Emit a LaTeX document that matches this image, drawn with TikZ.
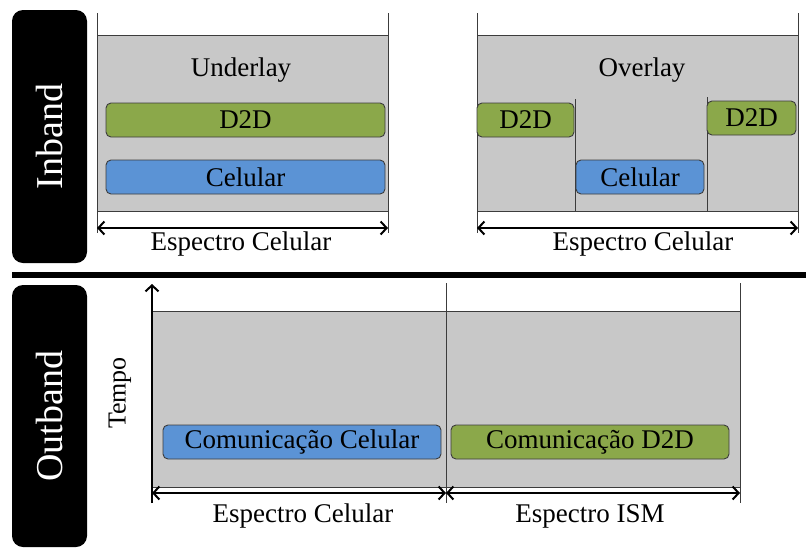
\documentclass[tikz,border=0pt]{standalone}
\usepackage{fontspec}
\setmainfont{Liberation Serif}
\usetikzlibrary{arrows.meta}
\definecolor{panelgray}{HTML}{C8C8C8}
\definecolor{barGreen}{HTML}{8BA84A}
\definecolor{barBlue}{HTML}{5B93D5}
\definecolor{edge}{HTML}{3C3C3C}
\tikzset{
  txt/.style={font=\fontsize{27}{30}\selectfont, inner sep=0pt},
  bandtag/.style={fill=black, rounded corners=11pt, minimum width=75pt, inner sep=0pt,
    text=white, font=\fontsize{38}{40}\selectfont},
  panel/.style={fill=panelgray, draw=edge, line width=0.8pt, inner sep=0pt},
  bar/.style={draw=edge, line width=0.9pt, rounded corners=5pt, minimum height=34pt,
    inner sep=0pt, font=\fontsize{27}{30}\selectfont},
  greenbar/.style={bar, fill=barGreen},
  bluebar/.style={bar, fill=barBlue},
  guide/.style={draw=edge, line width=0.8pt},
  span/.style={line width=2pt, {Straight Barb[length=6pt,width=13pt]}-{Straight Barb[length=6pt,width=13pt]}},
}
\begin{document}
\begin{tikzpicture}[x=1pt,y=-1pt]
\useasboundingbox (0,0) rectangle (806,547);

% ---------- Inband ----------
\node[bandtag, minimum height=253pt] (inband) at (49.5,136.5) {\rotatebox{90}{Inband}};

% Underlay panel
\node[panel, minimum width=291pt, minimum height=176pt] (under) at (242.5,123) {};
\coordinate (uLt) at (97,13);  \coordinate (uLb) at (97,233);
\coordinate (uRt) at (388,13); \coordinate (uRb) at (388,233);
\draw[guide] (uLt) -- (uLb);
\draw[guide] (uRt) -- (uRb);
\node[txt] (underlbl) at (241,70) {Underlay};
\node[greenbar, minimum width=279pt] (ud2d) at (245.5,120) {D2D};
\node[bluebar, minimum width=279pt] (ucel) at (245.5,177) {Celular};
\coordinate (uA) at (97,228); \coordinate (uB) at (388,228);
\draw[span] (uA) -- (uB);
\node[txt] (uspec) at (241,244) {Espectro Celular};

% Overlay panel
\node[panel, minimum width=321pt, minimum height=176pt] (over) at (637.5,123) {};
\coordinate (oLt) at (477,13);  \coordinate (oLb) at (477,233);
\coordinate (oRt) at (798,13); \coordinate (oRb) at (798,233);
\draw[guide] (oLt) -- (oLb);
\draw[guide] (oRt) -- (oRb);
\coordinate (od1t) at (575,99); \coordinate (od1b) at (575,211);
\coordinate (od2t) at (707,97); \coordinate (od2b) at (707,211);
\draw[guide] (od1t) -- (od1b);
\draw[guide] (od2t) -- (od2b);
\node[txt] (overlbl) at (642,70) {Overlay};
\node[greenbar, minimum width=97pt] (od2da) at (525.5,120) {D2D};
\node[bluebar, minimum width=128pt] (ocel) at (640,177) {Celular};
\node[greenbar, minimum width=89pt] (od2db) at (751.5,118) {D2D};
\coordinate (oA) at (477,228); \coordinate (oB) at (798,228);
\draw[span] (oA) -- (oB);
\node[txt] (ospec) at (643,244) {Espectro Celular};

% ---------- separator ----------
\coordinate (sepL) at (12,275); \coordinate (sepR) at (806,275);
\draw[line width=6pt] (sepL) -- (sepR);

% ---------- Outband ----------
\node[bandtag, minimum height=262pt] (outband) at (49.5,416) {\rotatebox{90}{Outband}};

\node[panel, minimum width=588pt, minimum height=176pt] (outp) at (446,399) {};
\coordinate (tB) at (152,503); \coordinate (tT) at (152,284);
\draw[line width=2pt, -{Straight Barb[length=6pt,width=13pt]}] (tB) -- (tT);
\coordinate (mT) at (446,283); \coordinate (mB) at (446,503);
\coordinate (rT) at (740,283); \coordinate (rB) at (740,503);
\draw[guide] (mT) -- (mB);
\draw[guide] (rT) -- (rB);
\node[txt, font=\fontsize{26}{28}\selectfont] (tempo) at (120,393) {\rotatebox{90}{Tempo}};
\node[bluebar, minimum width=278pt] (ccel) at (302,442) {Comunica\c{c}\~ao Celular};
\node[greenbar, minimum width=278pt] (cd2d) at (590,442) {Comunica\c{c}\~ao D2D};
\coordinate (aL) at (152,493); \coordinate (aM) at (446,493); \coordinate (aR) at (740,493);
\draw[span] (aL) -- (aM);
\draw[span] (aM) -- (aR);
\node[txt] (cspec) at (303,516) {Espectro Celular};
\node[txt] (ispec) at (590,516) {Espectro ISM};
\end{tikzpicture}
\end{document}
